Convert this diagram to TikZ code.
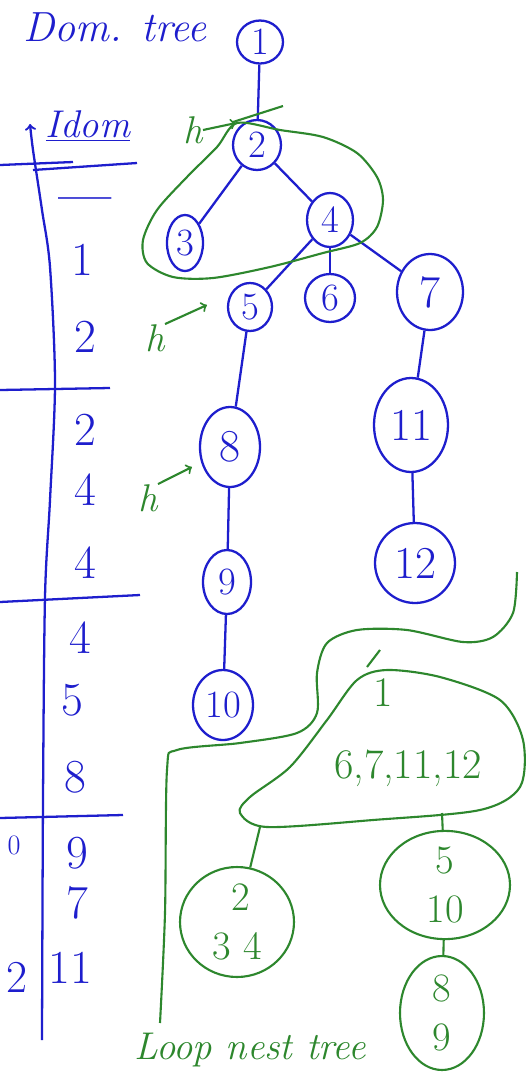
\documentclass[tikz,border=0pt]{standalone}
\usepackage{fontspec}
\usepackage{tikz}
\usetikzlibrary{positioning,arrows,shapes}
\definecolor{domblue}{RGB}{30,30,205}
\definecolor{loopgreen}{RGB}{45,135,45}
\tikzset{
  domnode/.style 2 args={draw=domblue, ellipse, line width=1.3pt, inner sep=0pt,
    minimum width=#1, minimum height=#2, text=domblue, font=\fontsize{22}{22}\selectfont},
  bignum/.style={font=\fontsize{26}{26}\selectfont},
  domedge/.style={draw=domblue, line width=1.3pt},
  tabline/.style={draw=domblue, line width=1.3pt},
  idomnum/.style={text=domblue, inner sep=0pt, font=\fontsize{27}{27}\selectfont},
  loopnode/.style 2 args={draw=loopgreen, ellipse, line width=1.2pt, inner sep=0pt, align=center,
    minimum width=#1, minimum height=#2, text=loopgreen, font=\fontsize{23}{28}\selectfont},
  loopedge/.style={draw=loopgreen, line width=1.2pt},
  looptext/.style={text=loopgreen, inner sep=0pt, font=\fontsize{24}{24}\selectfont},
  hnote/.style={text=loopgreen, inner sep=0pt, font=\fontsize{22}{22}\selectfont\itshape},
  harrow/.style={draw=loopgreen, line width=1.2pt, ->}
}

\begin{document}
\begin{tikzpicture}[x=0.02cm, y=-0.02cm]
  \fill[white] (0,0) rectangle (529,1073);
  \useasboundingbox (0,0) rectangle (529,1073);

  \node[text=domblue, font=\fontsize{24}{24}\selectfont\itshape] (domlabel) at (115,27) {Dom. tree};

  % dominator tree
  \node[domnode={0.92cm}{0.86cm}] (n1) at (260,42) {1};
  \node[domnode={0.96cm}{1.0cm}] (n2) at (257,145) {2};
  \node[domnode={0.72cm}{1.12cm}] (n3) at (185,243) {3};
  \node[domnode={0.92cm}{1.08cm}] (n4) at (330,220) {4};
  \node[domnode={0.88cm}{0.96cm}] (n5) at (250,307) {5};
  \node[domnode={1.0cm}{0.96cm}] (n6) at (330,298) {6};
  \node[domnode={1.32cm}{1.52cm}, bignum] (n7) at (430,292) {7};
  \node[domnode={1.2cm}{1.6cm}, bignum] (n8) at (230,447) {8};
  \node[domnode={0.96cm}{1.28cm}] (n9) at (227,582) {9};
  \node[domnode={1.2cm}{1.4cm}] (n10) at (223,705) {10};
  \node[domnode={1.48cm}{1.88cm}, bignum] (n11) at (411,425) {11};
  \node[domnode={1.6cm}{1.6cm}, bignum] (n12) at (415,563) {12};

  \draw[domedge] (n1) -- (n2);
  \draw[domedge] (n2) -- (n3);
  \draw[domedge] (n2) -- (n4);
  \draw[domedge] (n4) -- (n5);
  \draw[domedge] (n4) -- (n6);
  \draw[domedge] (n4) -- (n7);
  \draw[domedge] (n5) -- (n8);
  \draw[domedge] (n8) -- (n9);
  \draw[domedge] (n9) -- (n10);
  \draw[domedge] (n7) -- (n11);
  \draw[domedge] (n11) -- (n12);

  % idom table
  \draw[tabline,->] plot[smooth] coordinates {(42,1040) (43,800) (45,597) (50,500) (55,383) (50,267) (42,210) (33,150) (30,124)};
  \draw[tabline] (0,165) -- (73,162);
  \draw[tabline] (33,170) -- (137,163);
  \draw[tabline] (0,390) -- (110,388);
  \draw[tabline] (0,602) -- (140,595);
  \draw[tabline] (0,818) -- (123,815);
  \node[text=domblue, inner sep=0pt, font=\fontsize{22}{22}\selectfont\itshape] (idom) at (88,126) {\underline{Idom}};

  \node[idomnum, font=\fontsize{27}{27}\selectfont\bfseries] (t1) at (85,205) {---};
  \node[idomnum] (t2) at (82,260) {1};
  \node[idomnum] (t3) at (85,337) {2};
  \node[idomnum] (t4) at (85,430) {2};
  \node[idomnum] (t5) at (85,490) {4};
  \node[idomnum] (t6) at (85,563) {4};
  \node[idomnum] (t7) at (80,638) {4};
  \node[idomnum] (t8) at (72,700) {5};
  \node[idomnum] (t9) at (75,777) {8};
  \node[idomnum] (t10) at (77,853) {9};
  \node[idomnum] (t11) at (77,903) {7};
  \node[idomnum] (t12) at (70,968) {11};
  \node[text=domblue, inner sep=0pt, font=\fontsize{16}{16}\selectfont] (s10) at (14,845) {0};
  \node[text=domblue, inner sep=0pt, font=\fontsize{26}{26}\selectfont] (s12) at (17,977) {2};

  % loop around 2, 3, 4
  \draw[loopedge] plot[smooth cycle] coordinates {(237,123) (280,130) (323,137) (357,153) (377,177)
    (383,200) (377,227) (360,243) (323,253) (270,267) (213,278) (173,277) (147,263) (143,240)
    (157,210) (187,177) (217,147)};
  \draw[loopedge] (233,122) -- (283,106);

  % headers
  \node[hnote] (h1) at (193,130) {h};
  \node[hnote] (h2) at (155,338) {h};
  \node[hnote] (h3) at (148,498) {h};
  \coordinate (h1end) at (236,123);
  \coordinate (h2end) at (207,305);
  \coordinate (h3end) at (192,467);
  \draw[harrow] (h1.east) -- (h1end);
  \draw[harrow] (h2.north east) -- (h2end);
  \draw[harrow] (h3.north east) -- (h3end);

  % separator
  \draw[loopedge] plot[smooth] coordinates {(517,572) (513,613) (493,637) (463,642) (407,630)
    (357,630) (327,643) (317,673) (317,713) (297,733) (240,743) (177,750) (167,770) (165,913) (160,1023)};

  % loop nest tree
  \draw[loopedge] plot[smooth cycle] coordinates {(387,670) (440,677) (500,700) (523,740) (520,787)
    (480,810) (373,820) (267,827) (240,813) (250,797) (290,767) (327,720) (357,680)};
  \draw[loopedge] (380,650) -- (367,667);
  \node[looptext] (l1) at (383,693) {1};
  \node[looptext] (l1b) at (408,768) {6,7,11,12};
  \coordinate (l1sw) at (260,827);
  \coordinate (l1se) at (442,813);
  \node[loopnode={2.28cm}{2.2cm}] (l2) at (237,922) {\,2\\3 4};
  \node[loopnode={2.6cm}{2.08cm}] (l3) at (445,885) {5\\10};
  \node[loopnode={1.68cm}{2.28cm}] (l4) at (442,1013) {8\\9};
  \draw[loopedge] (l1sw) -- (l2);
  \draw[loopedge] (l1se) -- (l3);
  \draw[loopedge] (l3) -- (l4);
  \node[text=loopgreen, font=\fontsize{22}{22}\selectfont\itshape] (looplabel) at (250,1050) {Loop nest tree};
\end{tikzpicture}
\end{document}
